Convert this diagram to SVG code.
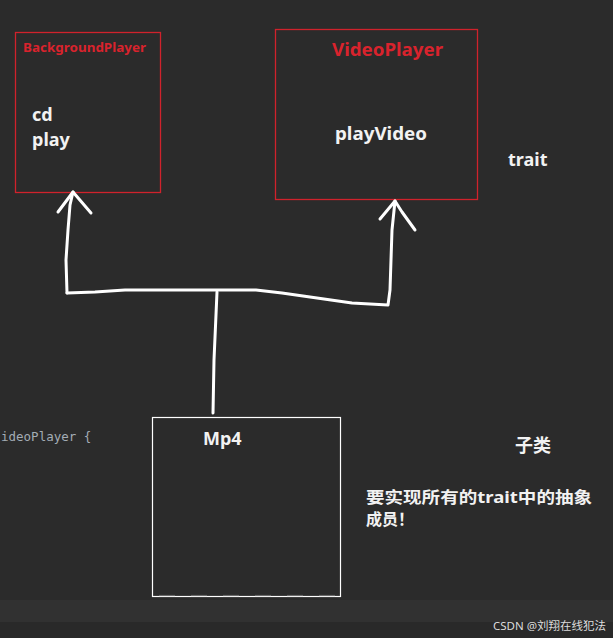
<svg xmlns="http://www.w3.org/2000/svg" width="613" height="638" viewBox="0 0 613 638">
<style>
.bg{fill:#2b2b2b}
.redbox{fill:none;stroke:#d0222c;stroke-width:1.3}
.whitebox{fill:none;stroke:#ffffff;stroke-width:1.2}
.lbl{font-family:"Noto Sans","Noto Sans CJK SC",sans-serif;font-weight:bold;fill:#f2f2f2}
.red{fill:#d9232d}
.ink{fill:none;stroke:#ffffff;stroke-width:3;stroke-linecap:round;stroke-linejoin:round}
.code{font-family:"DejaVu Sans Mono","Liberation Mono",monospace;font-size:12.5px;fill:#a3acb5}
.wm{font-family:"Noto Sans","Noto Sans CJK SC",sans-serif;font-size:11.5px;fill:#dcdcdc}
</style>
<rect class="bg" x="0" y="0" width="613" height="638"/>
<rect x="0" y="600" width="613" height="22" fill="#313131"/>
<rect x="0" y="622" width="613" height="16" fill="#292929"/>
<text class="code" x="1" y="441">ideoPlayer {</text>

<g id="BackgroundPlayer">
<rect class="redbox" x="15.5" y="32.5" width="145" height="160"/>
<text class="lbl red" x="23" y="52" font-size="12.5" textLength="123" lengthAdjust="spacingAndGlyphs">BackgroundPlayer</text>
<text class="lbl" x="32" y="121" font-size="18">cd</text>
<text class="lbl" x="32" y="146" font-size="18">play</text>
</g>

<g id="VideoPlayer">
<rect class="redbox" x="275.5" y="29.5" width="202" height="170"/>
<text class="lbl red" x="332" y="56" font-size="18.5" textLength="111" lengthAdjust="spacingAndGlyphs">VideoPlayer</text>
<text class="lbl" x="335" y="140" font-size="18" textLength="92" lengthAdjust="spacingAndGlyphs">playVideo</text>
</g>

<g id="trait">
<text class="lbl" x="508" y="166" font-size="18">trait</text>
</g>

<g id="Mp4">
<rect class="whitebox" x="152.5" y="417.5" width="188" height="179"/>
<g stroke="#6a6a6a" stroke-width="1.2">
<line x1="159" y1="595.5" x2="175" y2="595.5"/>
<line x1="191" y1="595.5" x2="207" y2="595.5"/>
<line x1="223" y1="595.5" x2="239" y2="595.5"/>
<line x1="255" y1="595.5" x2="271" y2="595.5"/>
<line x1="287" y1="595.5" x2="303" y2="595.5"/>
<line x1="319" y1="595.5" x2="335" y2="595.5"/>
</g>
<text class="lbl" x="203" y="445" font-size="18">Mp4</text>
</g>

<g id="notes">
<text class="lbl" x="515" y="452" font-size="18">子类</text>
<text class="lbl" x="366" y="503" font-size="16" textLength="226" lengthAdjust="spacingAndGlyphs">要实现所有的trait中的抽象</text>
<text class="lbl" x="366" y="525" font-size="16">成员！</text>
</g>

<g id="connectors">
<path class="ink" d="M213,413 L214,360 L217,292"/>
<path class="ink" d="M67,293 L66,260 L68,230 L70,205 L73,192"/>
<path class="ink" d="M58,212 L73,192 L91,213"/>
<path class="ink" d="M67,293 L95,292 L125,290 L256,290 L282,293 L352,303 L388,305 L390,290 L391,260 L392,230 L395,201"/>
<path class="ink" d="M380,219 L395,201 L402,212 L415,230"/>
</g>

<text class="wm" x="493" y="630">CSDN @刘翔在线犯法</text>
</svg>
